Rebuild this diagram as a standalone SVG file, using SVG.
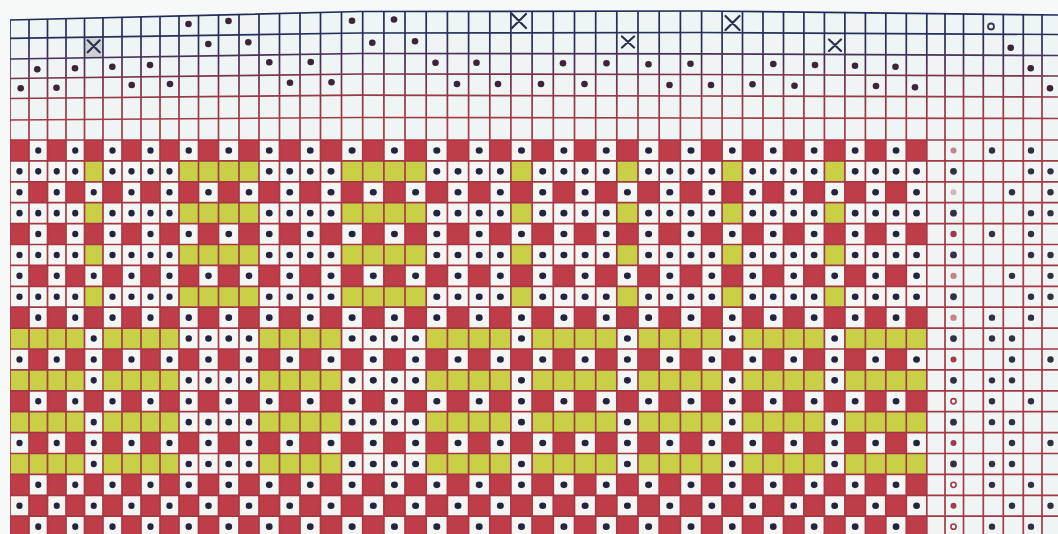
<svg xmlns="http://www.w3.org/2000/svg" width="1058" height="534" viewBox="0 0 1058 534">
<style>
.w{fill:#f4f6f4}
.y{fill:#c9cf46}
.d{fill:#23243f}
.td{fill:#3d2438}
.rd{fill:#35303f}
.pk{fill:#c2848f}
.rr{fill:#a23a4a}
.ring{fill:#f4f6f4;stroke:#a23a4a;stroke-width:1.6}
.x{stroke:#2a3052;stroke-width:2.2;fill:none;stroke-linecap:round}
.hl{fill:none;stroke-width:1.7}
</style>
<defs>
<linearGradient id="vg" gradientUnits="userSpaceOnUse" x1="0" y1="12" x2="0" y2="125">
<stop offset="0" stop-color="#232c58"/>
<stop offset="0.3" stop-color="#2e3058"/>
<stop offset="0.5" stop-color="#5a3052"/>
<stop offset="0.75" stop-color="#90364a"/>
<stop offset="1" stop-color="#a63a46"/>
</linearGradient>
<clipPath id="gc"><polygon points="10,20 360,11.5 700,11 1058,15 1058,534 10,534"/></clipPath>
<g id="ga">
<rect class="w" x="0" y="140" width="20" height="20.9"/><circle class="d" cx="10" cy="150.45" r="3.3"/>
<rect class="w" x="0" y="223.6" width="20" height="20.9"/><circle class="d" cx="10" cy="234.05" r="3.3"/>
<rect class="w" x="0" y="307.2" width="20" height="20.9"/><circle class="d" cx="10" cy="317.65" r="3.3"/>
<rect class="w" x="0" y="390.8" width="20" height="20.9"/><circle class="d" cx="10" cy="401.25" r="3.3"/>
<rect class="w" x="0" y="474.4" width="20" height="20.9"/><circle class="d" cx="10" cy="484.85" r="3.3"/>
<rect class="w" x="0" y="516.2" width="20" height="20.9"/><circle class="d" cx="10" cy="526.65" r="3.3"/>
</g>
<g id="gb">
<rect class="w" x="0" y="181.8" width="20" height="20.9"/><circle class="d" cx="10" cy="192.25" r="3.3"/>
<rect class="w" x="0" y="265.4" width="20" height="20.9"/><circle class="d" cx="10" cy="275.85" r="3.3"/>
<rect class="w" x="0" y="349" width="20" height="20.9"/><circle class="d" cx="10" cy="359.45" r="3.3"/>
<rect class="w" x="0" y="432.6" width="20" height="20.9"/><circle class="d" cx="10" cy="443.05" r="3.3"/>
<rect class="w" x="0" y="495.3" width="20" height="20.9"/><circle class="d" cx="10" cy="505.75" r="3.3"/>
</g>
<g id="gn">
<rect class="w" x="0" y="160.9" width="20" height="20.9"/><circle class="d" cx="10" cy="171.35" r="3.3"/>
<rect class="w" x="0" y="202.7" width="20" height="20.9"/><circle class="d" cx="10" cy="213.15" r="3.3"/>
<rect class="w" x="0" y="244.5" width="20" height="20.9"/><circle class="d" cx="10" cy="254.95" r="3.3"/>
<rect class="w" x="0" y="286.3" width="20" height="20.9"/><circle class="d" cx="10" cy="296.75" r="3.3"/>
<rect class="y" x="0" y="328.1" width="20" height="20.9"/>
<rect class="y" x="0" y="369.9" width="20" height="20.9"/>
<rect class="y" x="0" y="411.7" width="20" height="20.9"/>
<rect class="y" x="0" y="453.5" width="20" height="20.9"/>
</g>
<g id="gy">
<rect class="y" x="0" y="160.9" width="20" height="20.9"/>
<rect class="y" x="0" y="202.7" width="20" height="20.9"/>
<rect class="y" x="0" y="244.5" width="20" height="20.9"/>
<rect class="y" x="0" y="286.3" width="20" height="20.9"/>
<rect class="w" x="0" y="328.1" width="20" height="20.9"/><circle class="d" cx="10" cy="338.55" r="3.3"/>
<rect class="w" x="0" y="369.9" width="20" height="20.9"/><circle class="d" cx="10" cy="380.35" r="3.3"/>
<rect class="w" x="0" y="411.7" width="20" height="20.9"/><circle class="d" cx="10" cy="422.15" r="3.3"/>
<rect class="w" x="0" y="453.5" width="20" height="20.9"/><circle class="d" cx="10" cy="463.95" r="3.3"/>
</g>
<g id="on"><use href="#ga"/><use href="#gn"/></g>
<g id="oy"><use href="#ga"/><use href="#gy"/></g>
<g id="en"><use href="#gb"/><use href="#gn"/></g>
<g id="ey"><use href="#gb"/><use href="#gy"/></g>
</defs>

<rect width="1058" height="534" fill="#f6f9f8"/>
<polygon points="10,20 360,11.5 700,11 1058,15 1058,534 10,534" fill="#eef5f4"/>

<g id="pattern">
<rect x="10" y="140" width="916.8" height="394" fill="#bf3d49"/>
<use href="#en" transform="translate(10 0) scale(0.95 1)"/>
<use href="#on" transform="translate(29 0) scale(0.925 1)"/>
<use href="#en" transform="translate(47.5 0) scale(0.925 1)"/>
<use href="#on" transform="translate(66 0) scale(0.925 1)"/>
<use href="#ey" transform="translate(84.5 0) scale(0.925 1)"/>
<use href="#on" transform="translate(103 0) scale(0.95 1)"/>
<use href="#en" transform="translate(122 0) scale(0.95 1)"/>
<use href="#on" transform="translate(141 0) scale(0.95 1)"/>
<use href="#en" transform="translate(160 0) scale(0.95 1)"/>
<use href="#oy" transform="translate(179 0) scale(0.975 1)"/>
<use href="#ey" transform="translate(198.5 0)"/>
<use href="#oy" transform="translate(218.5 0) scale(1.025 1)"/>
<use href="#ey" transform="translate(239 0)"/>
<use href="#on" transform="translate(259 0) scale(1.025 1)"/>
<use href="#en" transform="translate(279.5 0) scale(1.025 1)"/>
<use href="#on" transform="translate(300 0) scale(1.025 1)"/>
<use href="#en" transform="translate(320.5 0) scale(1.05 1)"/>
<use href="#oy" transform="translate(341.5 0) scale(1.06 1)"/>
<use href="#ey" transform="translate(362.7 0) scale(1.06 1)"/>
<use href="#oy" transform="translate(383.9 0) scale(1.055 1)"/>
<use href="#ey" transform="translate(405 0) scale(1.06 1)"/>
<use href="#on" transform="translate(426.2 0) scale(1.06 1)"/>
<use href="#en" transform="translate(447.4 0) scale(1.06 1)"/>
<use href="#on" transform="translate(468.6 0) scale(1.06 1)"/>
<use href="#en" transform="translate(489.8 0) scale(1.055 1)"/>
<use href="#oy" transform="translate(510.9 0) scale(1.06 1)"/>
<use href="#en" transform="translate(532.1 0) scale(1.06 1)"/>
<use href="#on" transform="translate(553.3 0) scale(1.06 1)"/>
<use href="#en" transform="translate(574.5 0) scale(1.06 1)"/>
<use href="#on" transform="translate(595.7 0) scale(1.055 1)"/>
<use href="#ey" transform="translate(616.8 0) scale(1.06 1)"/>
<use href="#on" transform="translate(638 0) scale(1.06 1)"/>
<use href="#en" transform="translate(659.2 0) scale(1.06 1)"/>
<use href="#on" transform="translate(680.4 0) scale(1.06 1)"/>
<use href="#en" transform="translate(701.6 0) scale(1.025 1)"/>
<use href="#oy" transform="translate(722.1 0) scale(1.02 1)"/>
<use href="#en" transform="translate(742.5 0) scale(1.025 1)"/>
<use href="#on" transform="translate(763 0) scale(1.025 1)"/>
<use href="#en" transform="translate(783.5 0) scale(1.02 1)"/>
<use href="#on" transform="translate(803.9 0) scale(1.025 1)"/>
<use href="#ey" transform="translate(824.4 0) scale(1.025 1)"/>
<use href="#on" transform="translate(844.9 0) scale(1.025 1)"/>
<use href="#en" transform="translate(865.4 0) scale(1.02 1)"/>
<use href="#on" transform="translate(885.8 0) scale(1.025 1)"/>
<use href="#en" transform="translate(906.3 0) scale(1.025 1)"/>
</g>

<rect x="84.5" y="38" width="18.5" height="20" fill="#cdd3d2"/>

<g id="grid-lines">
<path clip-path="url(#gc)" fill="none" stroke="url(#vg)" stroke-width="1.7" d="M10 0V534M29 0V534M47.5 0V534M66 0V534M84.5 0V534M103 0V534M122 0V534M141 0V534M160 0V534M179 0V534M198.5 0V534M218.5 0V534M239 0V534M259 0V534M279.5 0V534M300 0V534M320.5 0V534M341.5 0V534M362.7 0V534M383.9 0V534M405 0V534M426.2 0V534M447.4 0V534M468.6 0V534M489.8 0V534M510.9 0V534M532.1 0V534M553.3 0V534M574.5 0V534M595.7 0V534M616.8 0V534M638 0V534M659.2 0V534M680.4 0V534M701.6 0V534M722.1 0V534M742.5 0V534M763 0V534M783.5 0V534M803.9 0V534M824.4 0V534M844.9 0V534M865.4 0V534M885.8 0V534M906.3 0V534M926.8 0V534M945 0V534M963.5 0V534M983.3 0V534M1003.3 0V534M1023.3 0V534M1042 0V534"/>
<polyline class="hl" stroke="#232c58" stroke-width="2.3" points="10,20 360,11.5 700,11 1058,15"/>
<polyline class="hl" stroke="#2a2f5a" points="10,38.3 360,33 700,32.5 1058,34.5"/>
<polyline class="hl" stroke="#4a3258" points="10,59 360,53.5 700,53.8 1058,55.5"/>
<polyline class="hl" stroke="#7a3450" points="10,78.5 360,74 700,74.5 1058,76"/>
<polyline class="hl" stroke="#963848" points="10,98.5 360,95.2 700,96 1058,97"/>
<polyline class="hl" stroke="#a43c48" points="10,120 360,117.5 700,118 1058,118.5"/>
<path class="hl" stroke="#a33844" d="M10 140H1058M10 160.9H1058M10 181.8H1058M10 202.7H1058M10 223.6H1058M10 244.5H1058M10 265.4H1058M10 286.3H1058M10 307.2H1058M10 328.1H1058M10 349H1058M10 369.9H1058M10 390.8H1058M10 411.7H1058M10 432.6H1058M10 453.5H1058M10 474.4H1058M10 495.3H1058M10 516.2H1058"/>
</g>

<g id="top-marks">
<path class="x" d="M512 14L526 28M526 14L512 28M725.5 16L739.5 30M739.5 16L725.5 30M87.7 40.3L99.7 52.3M99.7 40.3L87.7 52.3M622 36.5L634 47.5M634 36.5L622 47.5M829 39.5L841 51M841 39.5L829 51"/>
<circle class="td" cx="188.5" cy="24" r="3.3"/>
<circle class="td" cx="228.5" cy="21" r="3.3"/>
<circle class="td" cx="352" cy="20.7" r="3.3"/>
<circle class="td" cx="394" cy="19.5" r="3.3"/>
<circle cx="991" cy="26.5" r="3" fill="#eef5f4" stroke="#3a3458" stroke-width="1.8"/>
<circle class="td" cx="208.3" cy="44" r="3.3"/>
<circle class="td" cx="248.3" cy="42.3" r="3.3"/>
<circle class="td" cx="372.3" cy="42.7" r="3.3"/>
<circle class="td" cx="415" cy="41.3" r="3.3"/>
<circle class="td" cx="1010.7" cy="47.7" r="3.3"/>
<circle class="td" cx="37.3" cy="69.3" r="3.3"/>
<circle class="td" cx="75" cy="68.3" r="3.3"/>
<circle class="td" cx="112.3" cy="66.7" r="3.3"/>
<circle class="td" cx="150" cy="65" r="3.3"/>
<circle class="td" cx="269.3" cy="62.3" r="3.3"/>
<circle class="td" cx="310.7" cy="62" r="3.3"/>
<circle class="td" cx="435.5" cy="62.7" r="3.3"/>
<circle class="td" cx="476.5" cy="62.7" r="3.3"/>
<circle class="td" cx="563" cy="63.3" r="3.3"/>
<circle class="td" cx="606.5" cy="63.3" r="3.3"/>
<circle class="td" cx="648.5" cy="64.3" r="3.3"/>
<circle class="td" cx="690.5" cy="63.7" r="3.3"/>
<circle class="td" cx="773.3" cy="64" r="3.3"/>
<circle class="td" cx="815" cy="65" r="3.3"/>
<circle class="td" cx="855" cy="65.7" r="3.3"/>
<circle class="td" cx="895.5" cy="66.7" r="3.3"/>
<circle class="td" cx="1030.7" cy="68.3" r="3.3"/>
<circle class="td" cx="20.7" cy="88.3" r="3.3"/>
<circle class="td" cx="56.5" cy="87.7" r="3.3"/>
<circle class="td" cx="131.7" cy="85" r="3.3"/>
<circle class="td" cx="170" cy="84" r="3.3"/>
<circle class="td" cx="290" cy="82.7" r="3.3"/>
<circle class="td" cx="331.5" cy="82.3" r="3.3"/>
<circle class="td" cx="457" cy="84" r="3.3"/>
<circle class="td" cx="498" cy="84" r="3.3"/>
<circle class="td" cx="541" cy="84" r="3.3"/>
<circle class="td" cx="584.5" cy="84" r="3.3"/>
<circle class="td" cx="669.5" cy="85" r="3.3"/>
<circle class="td" cx="711" cy="85" r="3.3"/>
<circle class="td" cx="752.5" cy="84.3" r="3.3"/>
<circle class="td" cx="794.5" cy="85.7" r="3.3"/>
<circle class="td" cx="876" cy="86" r="3.3"/>
<circle class="td" cx="915" cy="87.3" r="3.3"/>
<circle class="td" cx="1050" cy="88.3" r="3.3"/>
</g>

<g id="right-marks">
<circle class="pk" cx="953.5" cy="150.45" r="3"/><circle class="rd" cx="992" cy="150.45" r="3.2"/><circle class="rd" cx="1031" cy="150.45" r="3.2"/>
<circle class="rd" cx="953.5" cy="171.35" r="3.4"/><circle class="rd" cx="1031" cy="171.35" r="3.2"/><circle class="rd" cx="1050.5" cy="171.35" r="3.2"/>
<circle fill="#d6b6bc" cx="953.5" cy="192.25" r="3"/><circle class="rd" cx="1012" cy="192.25" r="3.2"/><circle class="rd" cx="1050.5" cy="192.25" r="3.2"/>
<circle class="rd" cx="953.5" cy="213.15" r="3.4"/><circle class="rd" cx="1031" cy="213.15" r="3.2"/><circle class="rd" cx="1050.5" cy="213.15" r="3.2"/>
<circle class="rr" cx="953.5" cy="234.05" r="3.2"/><circle class="rd" cx="992" cy="234.05" r="3.2"/><circle class="rd" cx="1031" cy="234.05" r="3.2"/>
<circle class="rd" cx="953.5" cy="254.95" r="3.4"/><circle class="rd" cx="1031" cy="254.95" r="3.2"/><circle class="rd" cx="1050.5" cy="254.95" r="3.2"/>
<circle class="pk" cx="953.5" cy="275.85" r="3.2"/><circle class="rd" cx="1012" cy="275.85" r="3.2"/><circle class="rd" cx="1050.5" cy="275.85" r="3.2"/>
<circle class="rd" cx="953.5" cy="296.75" r="3.4"/><circle class="rd" cx="1031" cy="296.75" r="3.2"/><circle class="rd" cx="1050.5" cy="296.75" r="3.2"/>
<circle class="pk" cx="953.5" cy="317.65" r="3.2"/><circle class="rd" cx="992" cy="317.65" r="3.2"/><circle class="rd" cx="1031" cy="317.65" r="3.2"/>
<circle class="rd" cx="953.5" cy="338.55" r="3.4"/><circle class="rd" cx="992" cy="338.55" r="3.2"/><circle class="rd" cx="1012" cy="338.55" r="3.2"/>
<circle class="rr" cx="953.5" cy="359.45" r="3"/><circle class="rd" cx="1012" cy="359.45" r="3.2"/><circle class="rd" cx="1050.5" cy="359.45" r="3.2"/>
<circle class="rd" cx="953.5" cy="380.35" r="3.4"/><circle class="rd" cx="992" cy="380.35" r="3.2"/><circle class="rd" cx="1012" cy="380.35" r="3.2"/>
<circle class="ring" cx="953.5" cy="401.25" r="2.6"/><circle class="rd" cx="992" cy="401.25" r="3.2"/><circle class="rd" cx="1031" cy="401.25" r="3.2"/>
<circle class="rd" cx="953.5" cy="422.15" r="3.4"/><circle class="rd" cx="992" cy="422.15" r="3.2"/><circle class="rd" cx="1012" cy="422.15" r="3.2"/>
<circle class="rr" cx="953.5" cy="443.05" r="3"/><circle class="rd" cx="1012" cy="443.05" r="3.2"/><circle class="rd" cx="1050.5" cy="443.05" r="3.2"/>
<circle class="rd" cx="953.5" cy="463.95" r="3.4"/><circle class="rd" cx="992" cy="463.95" r="3.2"/><circle class="rd" cx="1012" cy="463.95" r="3.2"/>
<circle class="ring" cx="953.5" cy="484.85" r="2.6"/><circle class="rd" cx="992" cy="484.85" r="3.2"/><circle class="rd" cx="1031" cy="484.85" r="3.2"/>
<circle class="rr" cx="953.5" cy="505.75" r="3"/><circle class="rd" cx="1012" cy="505.75" r="3.2"/><circle class="rd" cx="1050.5" cy="505.75" r="3.2"/>
<circle class="ring" cx="953.5" cy="526.65" r="2.6"/><circle class="rd" cx="992" cy="526.65" r="3.2"/><circle class="rd" cx="1031" cy="526.65" r="3.2"/>
</g>
</svg>
